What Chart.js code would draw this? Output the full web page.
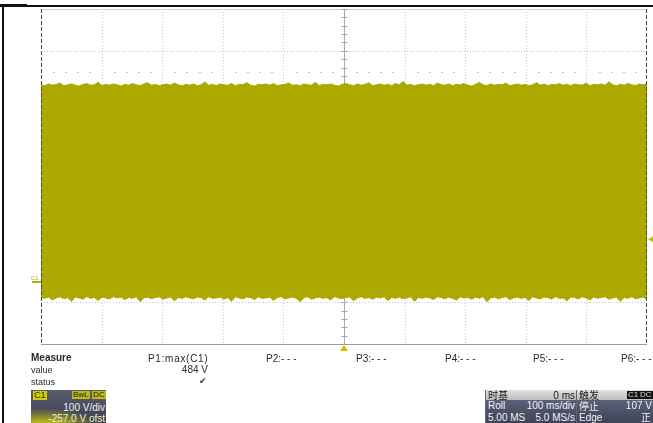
<!DOCTYPE html>
<html><head><meta charset="utf-8">
<script src="https://cdn.jsdelivr.net/npm/chart.js@4.4.0/dist/chart.umd.min.js"></script>
<style>
html,body{margin:0;padding:0;background:#fff;}
#wrap{position:relative;width:653px;height:423px;overflow:hidden;font-family:"Liberation Sans",Arial,sans-serif;background:#fff;}
#c{position:absolute;left:0;top:0;}
.t{position:absolute;white-space:nowrap;color:#2a2a2a;font-size:9px;line-height:1;}
.m{font-size:10px;}
.box{position:absolute;overflow:hidden;}
.hdr{position:absolute;left:0;right:0;top:0;height:10px;background:linear-gradient(#e2e2e2,#bdbdbd);}
.body{position:absolute;left:0;right:0;top:10px;bottom:0;background:linear-gradient(#5a6078,#3e4358);}
.w{position:absolute;white-space:nowrap;font-size:10px;line-height:1;color:#f2f2f2;}
.d{color:#222;}
.badge{position:absolute;font-size:8px;line-height:8px;padding:0 1px;}
</style></head>
<body>
<div id="wrap">
<canvas id="c" width="653" height="423"></canvas>
<!-- outer frame -->
<div style="position:absolute;left:0;top:5px;width:653px;height:2px;background:#111;"></div>
<div style="position:absolute;left:0;top:4px;width:27px;height:3px;background:#111;"></div>
<div style="position:absolute;left:2px;top:5px;width:2px;height:418px;background:#111;"></div>

<!-- measure panel -->
<div class="t" style="left:31px;top:353px;font-size:10px;font-weight:bold;">Measure</div>
<div class="t" style="left:31px;top:366px;">value</div>
<div class="t" style="left:31px;top:378px;">status</div>
<div class="t m" style="left:148px;top:354px;letter-spacing:0.7px;">P1:max(C1)</div>
<div class="t" style="right:445px;top:365px;font-size:10px;">484 V</div>
<div class="t" style="left:199px;top:377px;font-size:9px;font-family:'DejaVu Sans';color:#333;">✔</div>
<div class="t m" style="left:266px;top:354px;">P2:- - -</div>
<div class="t m" style="left:356px;top:354px;">P3:- - -</div>
<div class="t m" style="left:445px;top:354px;">P4:- - -</div>
<div class="t m" style="left:533px;top:354px;">P5:- - -</div>
<div class="t m" style="left:621px;top:354px;">P6:- - -</div>

<!-- channel box -->
<div class="box" style="left:31px;top:390px;width:75px;height:33px;background:radial-gradient(ellipse 90% 70% at 15% 115%, #d8d400 0%, #a8a620 35%, rgba(70,72,88,0) 85%), linear-gradient(#5a5d6c,#3c3f50);">
  <div class="badge" style="left:2px;top:1px;background:#cfcc00;color:#333;font-size:9px;line-height:9px;">C1</div>
  <div class="badge" style="left:41px;top:1px;background:#bdbb10;color:#222;">BwL</div>
  <div class="badge" style="left:61px;top:1px;background:#bdbb10;color:#222;">DC</div>
  <div class="w" style="right:1px;top:13px;font-size:10px;">100 V/div</div>
  <div class="w" style="right:1px;top:24px;font-size:10px;color:#f4f0c0;">-257.0 V ofst</div>
</div>

<!-- timebase box -->
<div class="box" style="left:485px;top:390px;width:90px;height:33px;border-left:1px solid #666;">
  <div class="hdr"></div><div class="body"></div>
  <div class="w d" style="left:2px;top:0px;font-size:10px;font-family:'Noto Sans CJK SC';line-height:10px;">时基</div>
  <div class="w d" style="right:1px;top:1px;">0 ms</div>
  <div class="w" style="left:2px;top:11px;">Roll</div>
  <div class="w" style="right:1px;top:11px;">100 ms/div</div>
  <div class="w" style="left:2px;top:23px;">5.00 MS</div>
  <div class="w" style="right:1px;top:23px;">5.0 MS/s</div>
</div>

<!-- trigger box -->
<div class="box" style="left:576px;top:390px;width:76px;height:33px;border-left:1px solid #666;">
  <div class="hdr"></div><div class="body"></div>
  <div class="w d" style="left:2px;top:0px;font-size:10px;font-family:'Noto Sans CJK SC';line-height:10px;">触发</div>
  <div class="badge" style="left:50px;top:1px;background:#111;color:#ddd;">C1</div>
  <div class="badge" style="left:62px;top:1px;background:#111;color:#ddd;">DC</div>
  <div class="w" style="left:2px;top:10px;font-family:'Noto Sans CJK SC';line-height:11px;">停止</div>
  <div class="w" style="right:1px;top:11px;">107 V</div>
  <div class="w" style="left:2px;top:23px;">Edge</div>
  <div class="w" style="right:2px;top:21px;font-family:'Noto Sans CJK SC';line-height:11px;">正</div>
</div>
</div>

<script>
// Waveform envelope (V): 100 V/div, -257 V offset, 100 ms/div roll
const upperEnvelope = [476,474,478,475,477,480,474,476,478,475,473,477,479,475,476,482,474,477,475,478,
476,473,477,475,479,476,474,478,481,475,477,474,476,478,475,480,476,474,477,475,
478,474,476,483,475,477,474,478,476,475,479,474,477,476,481,475,473,477,476,478,
475,479,474,476,477,480,475,476,474,478,476,475,482,474,477,476,478,475,473,477,
479,476,474,478,475,477,481,474,476,478,475,477,474,479,476,484,475,477,474,476,
478,475,477,474,480,476,475,478,474,477,476,479,475,473,477,482,476,474,478,475,
477,476,480,474,476,478,475,477,474,476,481,475,478,474,477,476,479,475,477,474,
478,476,475,480,474,477,476,478,475,483,476,474,477,475,479,476,474,478,476,477];
const lowerEnvelope = [-32,-34,-31,-38,-33,-30,-35,-32,-41,-31,-33,-36,-30,-34,-32,-39,-31,-33,-35,-30,
-33,-31,-37,-32,-34,-30,-42,-33,-31,-35,-32,-30,-36,-33,-31,-40,-32,-34,-30,-33,
-35,-31,-32,-38,-30,-34,-33,-31,-36,-32,-41,-30,-33,-35,-31,-32,-37,-30,-34,-33,
-31,-39,-32,-30,-35,-33,-31,-34,-42,-32,-30,-36,-33,-31,-34,-32,-38,-30,-33,-35,
-32,-31,-40,-33,-30,-34,-32,-36,-31,-33,-30,-39,-32,-34,-31,-35,-33,-30,-41,-32,
-34,-31,-33,-37,-30,-32,-35,-31,-34,-38,-30,-33,-32,-36,-31,-34,-30,-42,-33,-31,
-35,-32,-30,-37,-33,-31,-34,-32,-39,-30,-33,-35,-31,-32,-36,-30,-34,-33,-40,-31,
-32,-35,-30,-33,-38,-31,-34,-32,-30,-36,-33,-31,-41,-32,-34,-30,-35,-33,-31,-37];
const timeRange = [0, 1000];      // ms (10 div x 100 ms/div)
const voltRange = [-143, 657];    // V (8 div x 100 V/div, centre 257 V)
const triggerLevel = 107;         // V
const triggerTime = 500;          // ms
const groundLevel = 0;            // V
const waveColor = '#aba800';

function toPoints(arr){
  const span = timeRange[1]-timeRange[0];
  return arr.map((v,i)=>({x: timeRange[0] + i*span/(arr.length-1), y: v}));
}

const gridPlugin = {
  id:'scopeGrid',
  beforeDatasetsDraw(chart){
    const {ctx, chartArea:a, scales:{x, y}} = chart;
    ctx.save();
    ctx.lineWidth = 1;
    ctx.strokeStyle = '#c4c4c4';
    ctx.setLineDash([1,2]);
    for(let t=timeRange[0]+100; t<timeRange[1]; t+=100){
      const px = Math.round(x.getPixelForValue(t))+0.5;
      ctx.beginPath(); ctx.moveTo(px,a.top); ctx.lineTo(px,a.bottom); ctx.stroke();
    }
    for(let v=voltRange[0]+100; v<voltRange[1]; v+=100){
      const py = Math.round(y.getPixelForValue(v))+0.5;
      ctx.beginPath(); ctx.moveTo(a.left,py); ctx.lineTo(a.right,py); ctx.stroke();
    }
    ctx.setLineDash([]);
    ctx.strokeStyle = '#cfcfcf';
    ctx.beginPath(); ctx.moveTo(a.left, a.top+0.5); ctx.lineTo(a.right, a.top+0.5); ctx.stroke();
    const cx = Math.round(x.getPixelForValue(triggerTime))+0.5;
    ctx.strokeStyle = '#a8a8a8';
    ctx.beginPath(); ctx.moveTo(cx,a.top); ctx.lineTo(cx,a.bottom); ctx.stroke();
    for(let v=voltRange[0]; v<=voltRange[1]; v+=20){
      const py = Math.round(y.getPixelForValue(v))+0.5;
      ctx.beginPath(); ctx.moveTo(cx-3,py); ctx.lineTo(cx+3,py); ctx.stroke();
    }
    const cy = Math.round(y.getPixelForValue((voltRange[0]+voltRange[1])/2))+0.5;
    ctx.beginPath(); ctx.moveTo(a.left,cy); ctx.lineTo(a.right,cy); ctx.stroke();
    ctx.fillStyle = '#c6c6c6';
    const dy = Math.round(y.getPixelForValue(507));
    for(let t=timeRange[0]+20; t<timeRange[1]; t+=20){
      if(t%100===0) continue;
      const px = Math.round(x.getPixelForValue(t));
      ctx.fillRect(px, dy, 2, 1);
    }
    ctx.restore();
  },
  afterDatasetsDraw(chart){
    const {ctx, chartArea:a, scales:{x, y}} = chart;
    ctx.save();
    ctx.lineWidth = 1;
    ctx.strokeStyle = '#4a4a4a';
    ctx.setLineDash([4,2]);
    ctx.beginPath(); ctx.moveTo(a.left+0.5,a.top); ctx.lineTo(a.left+0.5,a.bottom); ctx.stroke();
    ctx.beginPath(); ctx.moveTo(a.right-0.5,a.top); ctx.lineTo(a.right-0.5,a.bottom); ctx.stroke();
    ctx.setLineDash([]);
    ctx.strokeStyle = '#9a9a9a';
    ctx.beginPath(); ctx.moveTo(a.left, a.bottom+0.5); ctx.lineTo(a.right, a.bottom+0.5); ctx.stroke();
    const gy = Math.round(y.getPixelForValue(groundLevel));
    ctx.fillStyle = '#b8b000';
    ctx.fillRect(a.left-9, gy-3, 9, 2);
    ctx.font = '6px "Liberation Sans", Arial';
    ctx.textBaseline = 'bottom';
    ctx.fillText('C1', a.left-10, gy-3);
    const ty = y.getPixelForValue(triggerLevel);
    ctx.fillStyle = '#c8c000';
    ctx.beginPath(); ctx.moveTo(a.right+1, ty); ctx.lineTo(a.right+6, ty-3); ctx.lineTo(a.right+6, ty+3); ctx.closePath(); ctx.fill();
    const tx = x.getPixelForValue(triggerTime);
    ctx.beginPath(); ctx.moveTo(tx, a.bottom+1); ctx.lineTo(tx-4, a.bottom+7); ctx.lineTo(tx+4, a.bottom+7); ctx.closePath(); ctx.fill();
    ctx.restore();
  }
};

new Chart(document.getElementById('c').getContext('2d'), {
  type:'line',
  data:{datasets:[
    {label:'C1 max', data: toPoints(upperEnvelope), borderColor:waveColor, backgroundColor:waveColor, borderWidth:1, pointRadius:0, fill:'+1', tension:0},
    {label:'C1 min', data: toPoints(lowerEnvelope), borderColor:waveColor, backgroundColor:waveColor, borderWidth:1, pointRadius:0, fill:false, tension:0}
  ]},
  options:{
    responsive:false, animation:false, devicePixelRatio:1,
    layout:{padding:{left:41, top:9, right:6, bottom:79}},
    plugins:{legend:{display:false}, tooltip:{enabled:false}},
    scales:{
      x:{type:'linear', min:timeRange[0], max:timeRange[1], display:false},
      y:{type:'linear', min:voltRange[0], max:voltRange[1], display:false}
    }
  },
  plugins:[gridPlugin]
});
</script>
</body></html>
